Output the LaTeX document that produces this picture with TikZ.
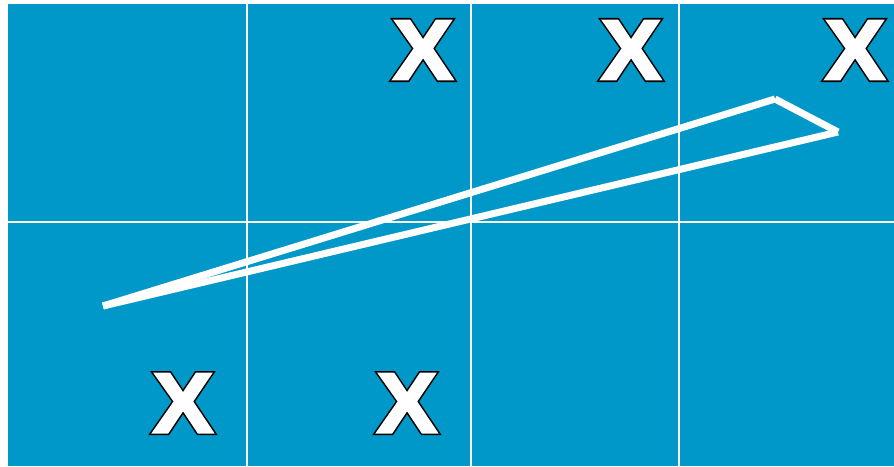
\documentclass[tikz,border=0pt]{standalone}
\usepackage{fontspec}
\setmainfont{Liberation Sans}
\newfontfamily\xfont{Liberation Sans Bold}
\definecolor{bg}{RGB}{0,152,200}
\newcommand{\outlinedX}{\rlap{\special{pdf:literal 0 g 0 G 2 Tr 0 j 5.5 w}X}\special{pdf:literal 1 g 1 G 2 Tr 0 j 2.5 w}X\special{pdf:literal 0 Tr}}
\tikzset{
  gridline/.style={white,line width=2pt},
  trail/.style={white,line width=7pt,line cap=butt},
  mark x/.style={text=white,inner sep=0pt,font=\xfont\fontsize{85}{85}\selectfont,xscale=1.06}
}
\begin{document}
\begin{tikzpicture}[x=1pt,y=-1pt]
\useasboundingbox (0,0) rectangle (894,466);
\fill[bg] (8,4) rectangle (894,466);
\draw[gridline] (247,4) -- (247,466);
\draw[gridline] (471,4) -- (471,466);
\draw[gridline] (679,4) -- (679,466);
\draw[gridline] (8,222) -- (894,222);
\coordinate (a) at (103,306);
\coordinate (b) at (775,99);
\coordinate (c) at (838,132);
\draw[trail] (a) -- (b);
\draw[trail] (b) -- (c);
\draw[trail] (c) -- (a);
\node[mark x] (x1) at (423,50) {\outlinedX};
\node[mark x] (x2) at (631,50) {\outlinedX};
\node[mark x] (x3) at (855,50) {\outlinedX};
\node[mark x] (x4) at (183,403) {\outlinedX};
\node[mark x] (x5) at (407,403) {\outlinedX};
\end{tikzpicture}
\end{document}
